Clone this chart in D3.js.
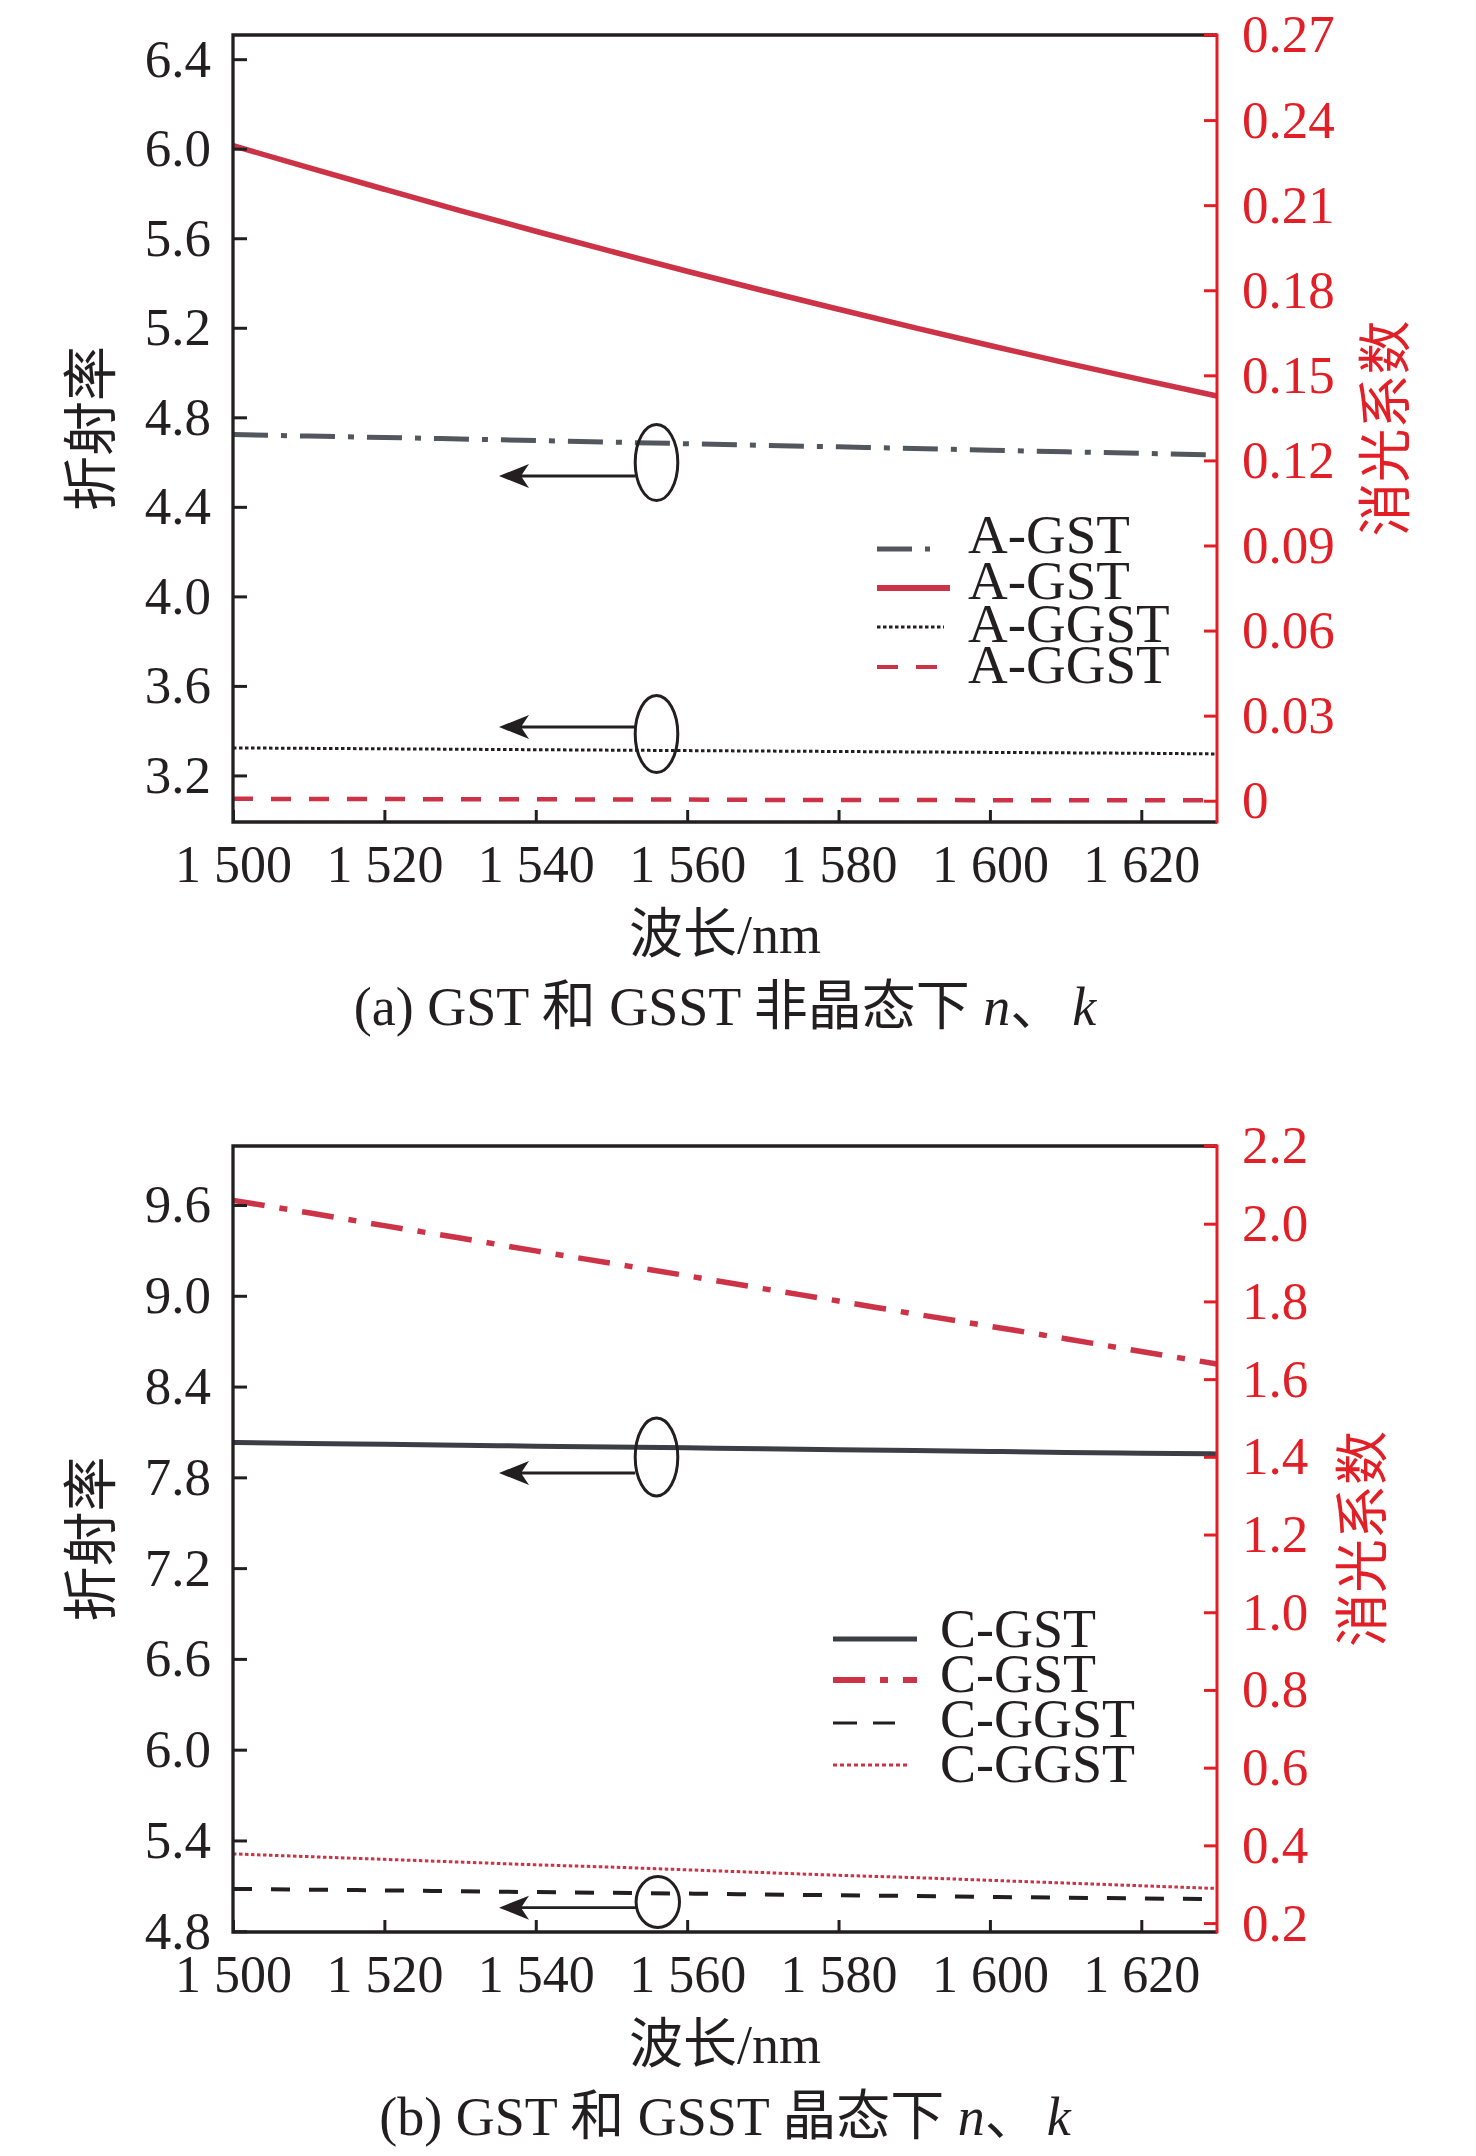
<!DOCTYPE html>
<html>
<head>
<meta charset="utf-8">
<script src="https://cdn.jsdelivr.net/npm/d3@7/dist/d3.min.js"></script>
<style>
  html, body { margin: 0; padding: 0; background: #fff; }
  svg { display: block; }
</style>
</head>
<body>
<svg id="chart" width="1476" height="2156"></svg>
<script>
// ---------------- DATA ----------------
const wavelength = [1500,1510,1520,1530,1540,1550,1560,1570,1580,1590,1600,1610,1620,1630];

// Panel (a): amorphous
const aGstN  = [4.723,4.716,4.710,4.703,4.696,4.689,4.682,4.675,4.668,4.661,4.653,4.646,4.639,4.632];
const aGstK  = [0.2310,0.2232,0.2156,0.2081,0.2008,0.1937,0.1867,0.1799,0.1733,0.1668,0.1605,0.1544,0.1485,0.1427];
const aGgstN = [3.323,3.321,3.319,3.317,3.315,3.313,3.311,3.309,3.307,3.305,3.303,3.301,3.299,3.296];
const aGgstK = [0.0007,0.0006,0.0006,0.0005,0.0005,0.0004,0.0004,0.0003,0.0003,0.0003,0.0002,0.0002,0.0002,0.0001];

// Panel (b): crystalline
const cGstN  = [8.030,8.024,8.018,8.012,8.006,8.000,7.995,7.989,7.983,7.977,7.971,7.965,7.960,7.955];
const cGstK  = [2.060,2.028,1.995,1.963,1.930,1.898,1.866,1.833,1.801,1.768,1.736,1.704,1.671,1.639];
const cGgstN = [5.080,5.075,5.070,5.064,5.059,5.054,5.049,5.043,5.038,5.033,5.027,5.022,5.017,5.012];
const cGgstK = [0.378,0.371,0.364,0.357,0.350,0.344,0.337,0.330,0.323,0.317,0.310,0.303,0.296,0.289];

// Tick values
const xTicks      = [1500,1520,1540,1560,1580,1600,1620];
const aLeftTicks  = [3.2,3.6,4.0,4.4,4.8,5.2,5.6,6.0,6.4];
const aRightTicks = [0,0.03,0.06,0.09,0.12,0.15,0.18,0.21,0.24,0.27];
const bLeftTicks  = [4.8,5.4,6.0,6.6,7.2,7.8,8.4,9.0,9.6];
const bRightTicks = [0.2,0.4,0.6,0.8,1.0,1.2,1.4,1.6,1.8,2.0,2.2];

const aLegend = ["A-GST","A-GST","A-GGST","A-GGST"];
const bLegend = ["C-GST","C-GST","C-GGST","C-GGST"];

// ---------------- STYLE ----------------
const LATIN = "'Liberation Serif','Times New Roman','Noto Sans CJK SC',serif";
const CJK = "'Noto Sans CJK SC','Liberation Serif',sans-serif";
const BLACK = "#231f20";
const AXRED = "#e21f26";
const CRED = "#cc3347";
const GRAY = "#52575d";
const DARK = "#3b3f45";

const svg = d3.select("#chart");
const L = 233, R = 1217;
const x = d3.scaleLinear().domain([1500,1630]).range([L,R]);

function panel(cfg) {
  const g = svg.append("g");
  const T = cfg.top, B = cfg.bottom;
  const yL = d3.scaleLinear().domain(cfg.leftDomain).range([B,T]);
  const yR = d3.scaleLinear().domain(cfg.rightDomain).range([B,T]);

  // series
  cfg.series.forEach(s => {
    const sc = s.axis === "left" ? yL : yR;
    const line = d3.line().x((d,i)=>x(wavelength[i])).y(d=>sc(d)).curve(d3.curveMonotoneX);
    g.append("path").datum(s.values)
      .attr("d", line).attr("fill","none")
      .attr("stroke", s.color).attr("stroke-width", s.width)
      .attr("stroke-dasharray", s.dash || null);
  });

  // axes
  const axB = d3.axisBottom(x).tickValues(xTicks).tickSize(-12).tickPadding(23.5)
    .tickFormat(d => { const s = String(d); return s[0] + " " + s.slice(1); });
  const gb = g.append("g").attr("transform",`translate(0,${B})`).call(axB);
  gb.select(".domain").remove();
  gb.selectAll("line").attr("stroke",BLACK).attr("stroke-width",3);
  gb.selectAll("text").attr("fill",BLACK).style("font-family",LATIN).style("font-size","52px");

  const axL = d3.axisLeft(yL).tickValues(cfg.leftTicks).tickSize(-14).tickPadding(22)
    .tickFormat(d3.format(".1f"));
  const gl = g.append("g").attr("transform",`translate(${L},0)`).call(axL);
  gl.select(".domain").remove();
  gl.selectAll("line").attr("stroke",BLACK).attr("stroke-width",3);
  gl.selectAll("text").attr("fill",BLACK).style("font-family",LATIN).style("font-size","53px");

  const axR = d3.axisRight(yR).tickValues(cfg.rightTicks).tickSize(-13).tickPadding(25)
    .tickFormat(cfg.rightFormat);
  const gr = g.append("g").attr("transform",`translate(${R},0)`).call(axR);
  gr.select(".domain").remove();
  gr.selectAll("line").attr("stroke",AXRED).attr("stroke-width",3);
  gr.selectAll("text").attr("fill",AXRED).style("font-family",LATIN).style("font-size","53px");

  // frame
  g.append("path").attr("d",`M${R},${T}H${L}V${B}H${R}`)
    .attr("fill","none").attr("stroke",BLACK).attr("stroke-width",3.3);
  g.append("line").attr("x1",R).attr("x2",R).attr("y1",T-1.5).attr("y2",B+1.5)
    .attr("stroke",AXRED).attr("stroke-width",3);
  g.append("line").attr("x1",R-13).attr("x2",R).attr("y1",T).attr("y2",T)
    .attr("stroke",AXRED).attr("stroke-width",3.3);

  // axis titles
  g.append("text").attr("transform",`translate(86,${(T+B)/2}) rotate(-90)`)
    .attr("text-anchor","middle").attr("dominant-baseline","central")
    .attr("fill",BLACK).style("font-family",CJK).style("font-size","55px").text("折射率");
  g.append("text").attr("transform",`translate(${cfg.rightTitleX},${(T+B)/2}) rotate(-90)`)
    .attr("text-anchor","middle").attr("dominant-baseline","central")
    .attr("fill",AXRED).style("font-family",CJK).style("font-size","54px").text("消光系数");
  g.append("text").attr("x",725).attr("y",B+131)
    .attr("text-anchor","middle").attr("fill",BLACK)
    .style("font-family",LATIN).style("font-size","54px").text("波长/nm");

  // caption
  const cap = g.append("text").attr("x",725).attr("y",B+203)
    .attr("text-anchor","middle").attr("fill",BLACK)
    .style("font-family",LATIN).style("font-size","54px");
  cap.append("tspan").text(cfg.caption);
  cap.append("tspan").style("font-style","italic").text("n");
  cap.append("tspan").text("、");
  cap.append("tspan").attr("dx",8).style("font-style","italic").text("k");

  // legend
  cfg.legend.forEach((it,i) => {
    g.append("line").attr("x1",it.x1).attr("x2",it.x2).attr("y1",it.y).attr("y2",it.y)
      .attr("stroke",it.color).attr("stroke-width",it.width)
      .attr("stroke-dasharray",it.dash || null);
    g.append("text").attr("x",cfg.legendTextX).attr("y",it.base)
      .attr("fill",BLACK).style("font-family",LATIN).style("font-size",cfg.legendSize+"px")
      .text(cfg.legendLabels[i]);
  });

  // annotation ellipses + arrows
  cfg.marks.forEach(m => {
    g.append("ellipse").attr("cx",m.cx).attr("cy",m.cy).attr("rx",m.rx).attr("ry",m.ry)
      .attr("fill","none").attr("stroke",BLACK).attr("stroke-width",3);
    g.append("line").attr("x1",m.cx-m.rx).attr("x2",520).attr("y1",m.ay).attr("y2",m.ay)
      .attr("stroke",BLACK).attr("stroke-width",2.8);
    g.append("path").attr("d",`M499,${m.ay}L529,${m.ay-12}L521,${m.ay}L529,${m.ay+12}Z`)
      .attr("fill",BLACK);
  });
}

panel({
  top: 35, bottom: 822,
  leftDomain: [2.992, 6.508], rightDomain: [-0.0075, 0.27],
  leftTicks: aLeftTicks, rightTicks: aRightTicks,
  rightFormat: d => d === 0 ? "0" : d3.format(".2f")(d),
  rightTitleX: 1381,
  caption: "(a) GST 和 GSST 非晶态下 ",
  series: [
    {values: aGgstK, axis:"right", color: CRED, width: 4.5, dash: "20,18"},
    {values: aGgstN, axis:"left", color: BLACK, width: 3, dash: "3.5,2.5"},
    {values: aGstN, axis:"left", color: GRAY, width: 5, dash: "35,13,6,13"},
    {values: aGstK, axis:"right", color: CRED, width: 5.5}
  ],
  legendTextX: 968, legendSize: 55, legendLabels: aLegend,
  legend: [
    {x1:877, x2:930, y:549, color:GRAY, width:5, dash:"35,13,5,30", base:553},
    {x1:877, x2:950, y:588, color:CRED, width:6, base:599},
    {x1:877, x2:944, y:627, color:BLACK, width:3, dash:"3.5,2.5", base:642},
    {x1:877, x2:937, y:667, color:CRED, width:4, dash:"21,18", base:683}
  ],
  marks: [
    {cx:656.5, cy:462.5, rx:21.3, ry:38, ay:476},
    {cx:656.5, cy:734, rx:21.3, ry:38.5, ay:727}
  ]
});

panel({
  top: 1146, bottom: 1932,
  leftDomain: [4.795, 9.99], rightDomain: [0.177, 2.2],
  leftTicks: bLeftTicks, rightTicks: bRightTicks,
  rightFormat: d3.format(".1f"),
  rightTitleX: 1358,
  caption: "(b) GST 和 GSST 晶态下 ",
  series: [
    {values: cGgstK, axis:"right", color: CRED, width: 3, dash: "3.5,2.5"},
    {values: cGgstN, axis:"left", color: BLACK, width: 4, dash: "19,19"},
    {values: cGstN, axis:"left", color: DARK, width: 5},
    {values: cGstK, axis:"right", color: CRED, width: 5.5, dash: "32,15,8,15"}
  ],
  legendTextX: 940, legendSize: 54, legendLabels: bLegend,
  legend: [
    {x1:833, x2:917, y:1639, color:DARK, width:5, base:1647},
    {x1:833, x2:917, y:1680, color:CRED, width:6, dash:"32,15,8,15", base:1692},
    {x1:833, x2:895, y:1723, color:BLACK, width:3, dash:"24,16", base:1737},
    {x1:833, x2:907, y:1765, color:CRED, width:3, dash:"4,3", base:1782}
  ],
  marks: [
    {cx:656.5, cy:1457, rx:21.3, ry:39, ay:1473},
    {cx:657.8, cy:1902, rx:21.7, ry:25.5, ay:1907.7}
  ]
});
</script>
</body>
</html>
